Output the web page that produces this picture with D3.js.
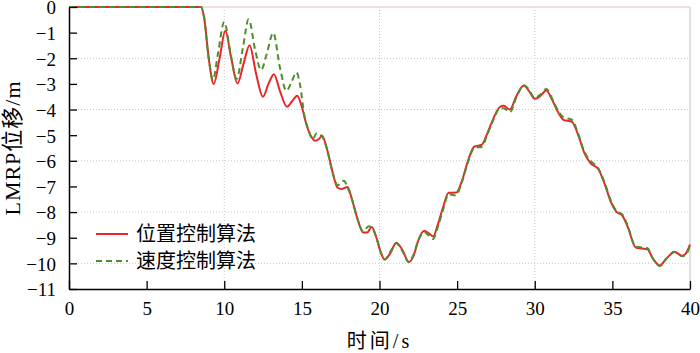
<!DOCTYPE html>
<html>
<head>
<meta charset="utf-8">
<script src="https://cdn.jsdelivr.net/npm/d3@7"></script>
<style>
  body { margin: 0; background: #fff; }
  text { font-family: "Liberation Serif", "Noto Sans CJK SC", serif; }
</style>
</head>
<body>
<div id="chart"></div>
<script>
// series data
var seriesNames = ["位置控制算法", "速度控制算法"];
var posT = [0, 8.5, 8.7, 9.0, 9.32, 9.7, 10.07, 10.45, 10.85, 11.25, 11.63, 12.05, 12.49, 12.85, 13.2, 13.6, 14.04, 14.4, 14.7, 15.0, 15.3, 15.65, 15.85, 16.1, 16.3, 16.6, 17.0, 17.3, 17.55, 17.95, 18.2, 18.6, 18.95, 19.2, 19.5, 19.8, 20.1, 20.33, 20.7, 21.08, 21.45, 21.9, 22.2, 22.5, 22.88, 23.15, 23.45, 23.75, 24.1, 24.45, 24.95, 25.3, 25.7, 26.1, 26.6, 26.9, 27.3, 27.75, 28.0, 28.4, 28.8, 29.3, 29.6, 30.0, 30.3, 30.75, 31.1, 31.5, 31.85, 32.4, 32.8, 33.2, 33.6, 34.1, 34.5, 34.9, 35.25, 35.65, 36.0, 36.5, 36.9, 37.25, 37.6, 38.05, 38.5, 39.0, 39.5, 39.75, 40];
var posY = [0, 0, -0.4, -2.0, -3.0, -2.0, -0.93, -2.0, -2.98, -2.2, -1.49, -2.6, -3.5, -3.0, -2.62, -3.3, -3.89, -3.65, -3.46, -3.9, -4.6, -5.1, -5.22, -5.15, -5.02, -5.5, -6.5, -7.05, -7.1, -7.02, -7.45, -8.3, -8.8, -8.8, -8.58, -9.0, -9.6, -9.85, -9.6, -9.2, -9.45, -9.95, -9.7, -9.1, -8.73, -8.82, -8.95, -8.5, -7.8, -7.25, -7.24, -6.8, -6.0, -5.45, -5.37, -5.0, -4.4, -3.9, -3.85, -4.0, -3.5, -3.06, -3.25, -3.58, -3.5, -3.26, -3.6, -4.1, -4.4, -4.48, -5.0, -5.7, -6.1, -6.33, -6.9, -7.6, -7.98, -8.15, -8.6, -9.38, -9.42, -9.45, -9.8, -10.08, -9.8, -9.56, -9.7, -9.6, -9.27];
var velT = [0, 8.5, 8.7, 9.0, 9.27, 9.6, 10.0, 10.4, 10.8, 11.2, 11.57, 12.0, 12.37, 12.75, 13.15, 13.6, 14.0, 14.35, 14.65, 14.9, 15.15, 15.4, 15.7, 15.95, 16.3, 16.6, 17.0, 17.3, 17.7, 17.95, 18.2, 18.6, 18.95, 19.3, 19.6, 19.8, 20.1, 20.33, 20.7, 21.08, 21.45, 21.9, 22.2, 22.5, 22.88, 23.15, 23.45, 23.75, 24.1, 24.45, 24.9, 25.3, 25.7, 26.1, 26.6, 26.9, 27.3, 27.75, 28.0, 28.4, 28.8, 29.3, 29.6, 30.0, 30.3, 30.75, 31.1, 31.5, 31.85, 32.4, 32.8, 33.2, 33.6, 34.1, 34.5, 34.9, 35.25, 35.65, 36.0, 36.5, 36.9, 37.25, 37.6, 38.05, 38.5, 39.0, 39.5, 39.75, 40];
var velY = [0, 0, -0.4, -2.0, -2.85, -1.8, -0.58, -1.8, -2.8, -1.6, -0.48, -1.7, -2.46, -1.8, -1.01, -2.4, -3.27, -2.9, -2.55, -3.1, -4.2, -4.75, -5.15, -4.92, -5.05, -5.5, -6.5, -6.95, -6.78, -7.05, -7.45, -8.3, -8.75, -8.55, -8.7, -9.0, -9.6, -9.85, -9.55, -9.22, -9.5, -9.95, -9.65, -9.1, -8.78, -8.9, -9.05, -8.6, -7.9, -7.3, -7.35, -6.85, -6.05, -5.5, -5.45, -5.05, -4.45, -3.95, -3.95, -4.1, -3.55, -3.05, -3.2, -3.55, -3.45, -3.2, -3.55, -4.05, -4.3, -4.4, -4.95, -5.65, -6.0, -6.3, -6.85, -7.55, -7.95, -8.1, -8.55, -9.35, -9.38, -9.4, -9.8, -10.1, -9.8, -9.55, -9.72, -9.65, -9.3];
var xTicks = [0, 5, 10, 15, 20, 25, 30, 35, 40];
var yTicks = [0, -1, -2, -3, -4, -5, -6, -7, -8, -9, -10, -11];
var xGrid = [10, 20, 30];
var yGrid = [-2, -4, -6, -8, -10];

var W = 700, H = 353;
var plotL = 69, plotR = 690, plotT = 7, plotB = 289;

var svg = d3.select("#chart").append("svg").attr("width", W).attr("height", H);

var x = d3.scaleLinear().domain([0, 40]).range([plotL, plotR]);
var y = d3.scaleLinear().domain([-11, 0]).range([plotB, plotT]);

// grid
svg.append("g").selectAll("line").data(yGrid).join("line")
  .attr("x1", plotL).attr("x2", plotR)
  .attr("y1", d => y(d)).attr("y2", d => y(d))
  .attr("stroke", "#c8c8c8").attr("stroke-width", 1).attr("stroke-dasharray", "1,2");
svg.append("g").selectAll("line").data(xGrid).join("line")
  .attr("y1", plotT).attr("y2", plotB)
  .attr("x1", d => x(d)).attr("x2", d => x(d))
  .attr("stroke", "#c8c8c8").attr("stroke-width", 1).attr("stroke-dasharray", "1,2");

// light frame on top and right
svg.append("line").attr("x1", plotL).attr("x2", plotR).attr("y1", plotT).attr("y2", plotT)
  .attr("stroke", "#e6d6d6").attr("stroke-width", 1.5);
svg.append("line").attr("x1", plotR).attr("x2", plotR).attr("y1", plotT).attr("y2", plotB)
  .attr("stroke", "#d4d4d4").attr("stroke-width", 1.5);

// curves
var line = d3.line().x(d => x(d[0])).y(d => y(d[1])).curve(d3.curveMonotoneX);
var posData = d3.zip(posT, posY);
var velData = d3.zip(velT, velY);

svg.append("path").datum(posData).attr("d", line)
  .attr("fill", "none").attr("stroke", "#e8272c").attr("stroke-width", 2);
svg.append("path").datum(velData).attr("d", line)
  .attr("fill", "none").attr("stroke", "#4e8f2c").attr("stroke-width", 2)
  .attr("stroke-dasharray", "6,4");

// axes
var xAxis = svg.append("g").attr("transform", "translate(0," + plotB + ")")
  .call(d3.axisBottom(x).tickValues(xTicks).tickSizeInner(-8).tickSizeOuter(0).tickPadding(13).tickFormat(d3.format("d")));
var yAxis = svg.append("g").attr("transform", "translate(" + plotL + ",0)")
  .call(d3.axisLeft(y).tickValues(yTicks).tickSizeInner(-8).tickSizeOuter(0).tickPadding(13).tickFormat(d3.format("d")));
[xAxis, yAxis].forEach(function(a) {
  a.select(".domain").attr("stroke", "#000").attr("stroke-width", 1.5);
  a.selectAll(".tick line").attr("stroke", "#000").attr("stroke-width", 1.3);
  a.selectAll(".tick text").attr("fill", "#000").style("font-size", "19px")
    .style("font-family", "'Liberation Serif', serif");
});
yAxis.selectAll(".tick text").attr("dy", "0.36em");

// titles
svg.append("text").attr("x", (plotL + plotR) / 2).attr("y", 348)
  .attr("text-anchor", "middle").style("font-size", "20px").style("letter-spacing", "3px")
  .text("时间/s");
svg.append("text").attr("transform", "translate(20," + ((plotT + plotB) / 2) + ") rotate(-90)")
  .attr("text-anchor", "middle").style("font-size", "22px").style("letter-spacing", "1px")
  .text("LMRP位移/m");

// legend
var legend = svg.append("g");
var colors = ["#e8272c", "#4e8f2c"];
var dashes = [null, "6,4"];
seriesNames.forEach(function(name, i) {
  var ly = 234 + i * 27;
  legend.append("line").attr("x1", 96).attr("x2", 128).attr("y1", ly).attr("y2", ly)
    .attr("stroke", colors[i]).attr("stroke-width", 2).attr("stroke-dasharray", dashes[i]);
  legend.append("text").attr("x", 136).attr("y", ly + 7).style("font-size", "20px")
    .style("font-family", "'Noto Sans CJK SC', sans-serif").text(name);
});
</script>
</body>
</html>
